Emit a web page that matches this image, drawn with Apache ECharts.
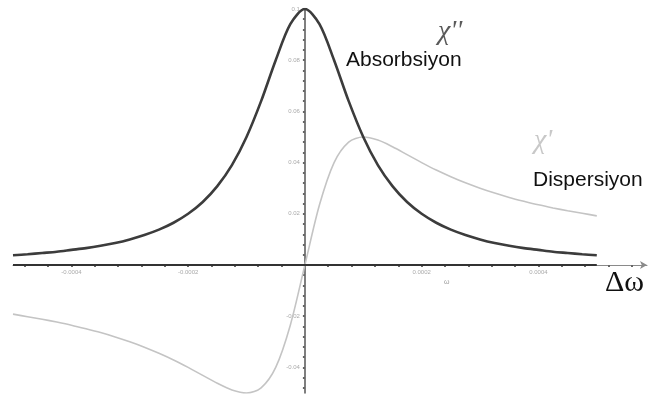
<!DOCTYPE html>
<html>
<head>
<meta charset="utf-8">
<script src="https://cdn.jsdelivr.net/npm/echarts@6/dist/echarts.min.js"></script>
<style>
  html, body { margin: 0; padding: 0; background: #fff; }
  #chart { width: 652px; height: 401px; }
</style>
</head>
<body>
<div id="chart"></div>
<script>
// Detuning Δω
const deltaW = [
  -0.0005, -0.000475, -0.00045, -0.000425, -0.0004, -0.000375, -0.00035, -0.000325,
  -0.0003, -0.000275, -0.00025, -0.000225, -0.0002, -0.000175, -0.00015, -0.000125,
  -0.0001, -0.000075, -0.00005, -0.000025, 0,
  0.000025, 0.00005, 0.000075, 0.0001, 0.000125, 0.00015, 0.000175, 0.0002,
  0.000225, 0.00025, 0.000275, 0.0003, 0.000325, 0.00035, 0.000375, 0.0004,
  0.000425, 0.00045, 0.000475, 0.0005
];

// χ'' — absorption line
const absorption = [
  0.0038, 0.0042, 0.0047, 0.0052, 0.0059, 0.0066, 0.0075, 0.0086,
  0.0100, 0.0117, 0.0138, 0.0165, 0.0200, 0.0246, 0.0308, 0.0390,
  0.0500, 0.0640, 0.0800, 0.0941, 0.1000,
  0.0941, 0.0800, 0.0640, 0.0500, 0.0390, 0.0308, 0.0246, 0.0200,
  0.0165, 0.0138, 0.0117, 0.0100, 0.0086, 0.0075, 0.0066, 0.0059,
  0.0052, 0.0047, 0.0042, 0.0038
];

// χ' — dispersion line
const dispersion = [
  -0.0192, -0.0202, -0.0212, -0.0223, -0.0235, -0.0249, -0.0264, -0.0281,
  -0.0300, -0.0321, -0.0345, -0.0371, -0.0400, -0.0431, -0.0462, -0.0488,
  -0.0500, -0.0480, -0.0400, -0.0235, 0,
  0.0235, 0.0400, 0.0480, 0.0500, 0.0488, 0.0462, 0.0431, 0.0400,
  0.0371, 0.0345, 0.0321, 0.0300, 0.0281, 0.0264, 0.0249, 0.0235,
  0.0223, 0.0212, 0.0202, 0.0192
];

// Tick labels on both axes
const xTickLabels = [-0.0004, -0.0002, 0.0002, 0.0004];
const yTickLabels = [-0.04, -0.02, 0.02, 0.04, 0.06, 0.08, 0.1];

// Axis ranges
const X_MIN = -0.0005, X_MAX = 0.000586;
const Y_MIN = -0.05, Y_MAX = 0.1;

// Minor tick positions
const xMinorTicks = [];
for (let i = -12; i <= 14; i++) xMinorTicks.push(+(i * 0.00004).toFixed(6));
const yMinorTicks = [];
for (let i = -12; i <= 25; i++) yMinorTicks.push(+(i * 0.004).toFixed(4));

// Plot box; axes are shifted onto the origin with offsets
const G = { left: 13, right: 5, top: 9, bottom: 8 };
const W = 652 - G.left - G.right;
const H = 401 - G.top - G.bottom;
const yAxisShift = -W * (0 - X_MIN) / (X_MAX - X_MIN);
const xAxisShift = -H * (0 - Y_MIN) / (Y_MAX - Y_MIN);

const chart = echarts.init(document.getElementById('chart'), null, { renderer: 'canvas' });

const pairs = (ys) => deltaW.map((x, i) => [x, ys[i]]);

chart.setOption({
  animation: false,
  backgroundColor: '#ffffff',
  grid: Object.assign({ containLabel: false, outerBoundsMode: 'none' }, G),
  xAxis: {
    type: 'value',
    min: X_MIN,
    max: X_MAX,
    position: 'bottom',
    offset: xAxisShift,
    axisLine: {
      onZero: false,
      symbol: ['none', 'arrow'],
      symbolSize: [6, 7],
      lineStyle: { color: '#8a8a8a', width: 1 }
    },
    axisTick: {
      show: true,
      length: 2,
      customValues: xMinorTicks,
      lineStyle: { color: '#666', width: 2 }
    },
    axisLabel: {
      show: true,
      customValues: xTickLabels,
      formatter: (v) => String(+v.toFixed(4)),
      fontSize: 6,
      color: '#aaa',
      margin: 4,
      fontFamily: 'Liberation Sans'
    },
    splitLine: { show: false }
  },
  yAxis: {
    type: 'value',
    min: Y_MIN,
    max: Y_MAX,
    position: 'left',
    offset: yAxisShift,
    axisLine: {
      onZero: false,
      lineStyle: { color: '#555', width: 1.5 }
    },
    axisTick: {
      show: true,
      length: 2,
      customValues: yMinorTicks,
      lineStyle: { color: '#666', width: 2 }
    },
    axisLabel: {
      show: true,
      customValues: yTickLabels,
      formatter: (v) => String(+v.toFixed(2)),
      fontSize: 6,
      color: '#aaa',
      margin: 5,
      fontFamily: 'Liberation Sans'
    },
    splitLine: { show: false }
  },
  series: [
    {
      name: 'Dispersiyon',
      type: 'line',
      data: pairs(dispersion),
      smooth: 0.3,
      showSymbol: false,
      lineStyle: { color: '#c4c4c4', width: 1.6 },
      z: 2
    },
    {
      name: 'Absorbsiyon',
      type: 'line',
      data: pairs(absorption),
      smooth: 0.3,
      showSymbol: false,
      lineStyle: { color: '#3c3c3c', width: 2.6 },
      z: 3,
      markLine: {
        silent: true,
        symbol: ['none', 'none'],
        label: { show: false },
        lineStyle: { color: '#333', width: 2, type: 'solid' },
        data: [[
          { coord: [deltaW[0], 0] },
          { coord: [deltaW[deltaW.length - 1], 0] }
        ]]
      }
    }
  ],
  graphic: [
    {
      type: 'text', left: 438, top: 18,
      style: { text: "χ''", font: 'italic 28px "Liberation Serif"', fill: '#5a5a5a' }
    },
    {
      type: 'text', left: 346, top: 50,
      style: { text: 'Absorbsiyon', font: '21px "Liberation Sans"', fill: '#111' }
    },
    {
      type: 'text', left: 534, top: 127,
      style: { text: "χ'", font: 'italic 28px "Liberation Serif"', fill: '#c8c8c8' }
    },
    {
      type: 'text', left: 533, top: 170,
      style: { text: 'Dispersiyon', font: '21px "Liberation Sans"', fill: '#111' }
    },
    {
      type: 'text', left: 605, top: 268,
      style: { text: 'Δω', font: '30px "Liberation Serif"', fill: '#111' }
    },
    {
      type: 'text', left: 444, top: 279,
      style: { text: 'ω', font: '7px "Liberation Sans"', fill: '#999' }
    }
  ]
});
</script>
</body>
</html>
